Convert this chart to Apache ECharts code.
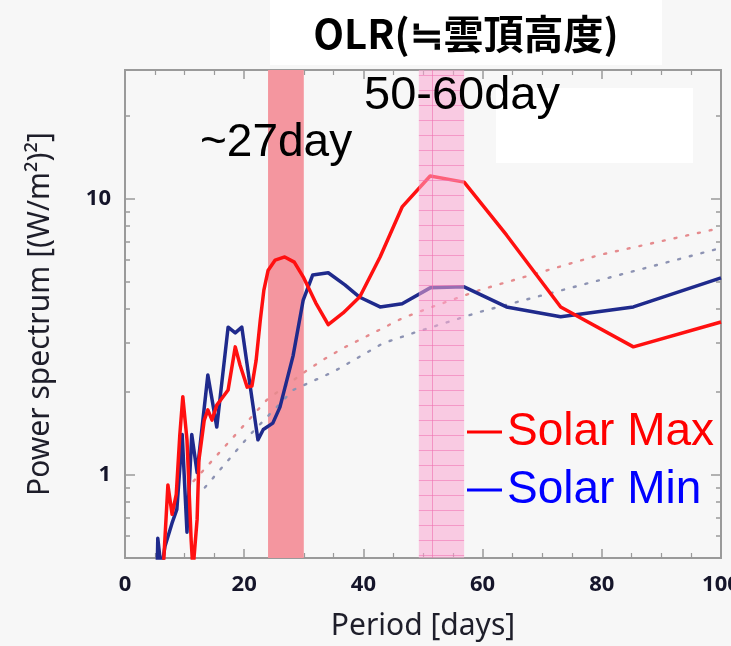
<!DOCTYPE html>
<html><head><meta charset="utf-8">
<script src="https://cdn.jsdelivr.net/npm/echarts@6/dist/echarts.min.js"></script>
<style>html,body{margin:0;padding:0;background:#f7f7f7;} #c{width:731px;height:646px;}</style>
</head><body><div id="c"></div>
<script>
// ---------- data ----------
const titleText = 'OLR(≒雲頂高度)';
const xName = 'Period [days]';
const yName = 'Power spectrum [(W/m²)²]';
const seriesNames = ['Solar Max', 'Solar Min'];
const annotations = ['~27day', '50-60day'];

const redPeriod = [6.4, 7.2, 7.9, 8.6, 9.2, 9.7, 10.4, 11.1, 11.4, 12.1, 12.4, 13.3, 13.9, 14.6, 15.4, 16.3, 17.3, 18.5, 19.3, 20.5, 21.3, 22.0, 22.7, 23.3, 24.0, 25.2, 26.8, 28.4, 30.0, 32.0, 34.1, 36.6, 39.4, 42.8, 46.5, 51.2, 56.9, 64.0, 73.1, 85.3, 100];
const redPower  = [0.45, 0.92, 0.72, 0.85, 1.4, 1.92, 1.34, 0.58, 0.45, 0.69, 1.13, 1.58, 1.72, 1.58, 1.79, 1.9, 2.03, 2.91, 2.5, 2.08, 2.1, 2.6, 3.64, 4.67, 5.5, 6.0, 6.16, 5.9, 5.17, 4.2, 3.5, 3.86, 4.42, 6.16, 9.35, 12.1, 11.5, 7.4, 4.06, 2.91, 3.58];

const bluePeriod = [5.4, 5.5, 6.1, 6.7, 7.9, 8.7, 9.6, 10.4, 11.2, 12.1, 13.9, 15.4, 17.3, 18.5, 19.6, 21.0, 22.3, 23.2, 24.8, 26.0, 28.2, 29.9, 31.5, 34.1, 36.9, 39.4, 42.8, 46.5, 51.2, 56.9, 64.0, 73.1, 85.3, 100];
const bluePower  = [0.45, 0.59, 0.45, 0.55, 0.67, 0.75, 1.4, 0.62, 1.4, 1.02, 2.3, 1.49, 3.43, 3.27, 3.43, 2.1, 1.34, 1.46, 1.54, 1.76, 2.7, 4.3, 5.3, 5.4, 4.88, 4.4, 4.06, 4.17, 4.76, 4.8, 4.06, 3.74, 4.06, 5.17];

const redSigPeriod = [11.5, 12.1, 23.8, 29.9, 33.2, 36.6, 46.6, 50.7, 59.6, 79.7, 100];
const redSig       = [0.95, 0.98, 1.87, 2.34, 2.61, 2.88, 3.7, 4.0, 4.68, 6.27, 7.85];
const blueSigPeriod = [13.4, 21.0, 28.2, 34.9, 43.3, 49.0, 59.6, 80.0, 100];
const blueSig       = [0.90, 1.4, 2.03, 2.36, 3.0, 3.3, 3.9, 5.1, 6.64];

const solarBand = [24, 30];        // ~27 day
const mjoBand = [49.3, 56.9];      // 50-60 day
const mjoBandLine = 51.5;

const xTickValues = [0, 20, 40, 60, 80, 100];
const yMajorTicks = [1, 10];
const yMinorTicks = [0.5, 0.6, 0.7, 0.8, 0.9, 2, 3, 4, 5, 6, 7, 8, 9, 20];

// ---------- chart ----------
const zip = (a, b) => a.map((v, i) => [v, b[i]]);
const frame = '#9a9a9a';
const labelColor = '#15152a';

// pattern for the 50-60 day band
const pc = document.createElement('canvas');
pc.width = 8; pc.height = 15;
const pctx = pc.getContext('2d');
pctx.fillStyle = 'rgba(252,165,210,0.55)';
pctx.fillRect(0, 0, 8, 15);
pctx.fillStyle = 'rgba(238,110,175,0.55)';
pctx.fillRect(0, 0, 8, 1);

function xAxisCfg(pos) {
  return {
    type: 'value', min: xTickValues[0], max: xTickValues[xTickValues.length - 1],
    interval: xTickValues[1] - xTickValues[0], position: pos,
    axisLine: { show: true, lineStyle: { color: frame, width: 2 } },
    axisTick: { show: true, inside: true, length: 9, lineStyle: { color: frame, width: 1.5 } },
    minorTick: { show: true, splitNumber: 4, length: 5, lineStyle: { color: frame, width: 1.2 } },
    splitLine: { show: false },
    axisLabel: pos === 'bottom'
      ? { show: true, fontSize: 22, fontWeight: 'bold', color: labelColor, margin: 16, fontFamily: 'Noto Sans' }
      : { show: false },
    name: pos === 'bottom' ? xName : '',
    nameLocation: 'middle', nameGap: 53,
    nameTextStyle: { fontSize: 30, color: '#1e1e2a', fontFamily: 'Noto Sans' }
  };
}
function yAxisCfg(pos, major) {
  return {
    type: 'log', logBase: 10, min: 0.5, max: 29.3, position: pos,
    axisLine: { show: true, onZero: false, lineStyle: { color: frame, width: 2 } },
    axisTick: { show: true, inside: true, length: major ? 10 : 5, customValues: major ? yMajorTicks : yMinorTicks,
                lineStyle: { color: frame, width: 1.5 } },
    splitLine: { show: false },
    axisLabel: (major && pos === 'left')
      ? { show: true, customValues: yMajorTicks, fontSize: 22, fontWeight: 'bold', color: labelColor, margin: 14, fontFamily: 'Noto Sans' }
      : { show: false },
    name: (major && pos === 'left') ? yName : '',
    nameLocation: 'middle', nameGap: 70, nameRotate: 90,
    nameTextStyle: { fontSize: 30, color: '#1e1e2a', fontFamily: 'Noto Sans' }
  };
}

const chart = echarts.init(document.getElementById('c'), null, { renderer: 'canvas' });
chart.setOption({
  backgroundColor: '#f7f7f7',
  animation: false,
  grid: { left: 125, right: 10, top: 70, bottom: 88, containLabel: false, outerBoundsMode: 'none' },
  xAxis: [xAxisCfg('bottom'), xAxisCfg('top')],
  yAxis: [yAxisCfg('left', true), yAxisCfg('left', false), yAxisCfg('right', true), yAxisCfg('right', false)],
  legend: {
    orient: 'vertical', left: 462, top: 403, itemGap: 10,
    icon: 'rect', itemWidth: 35, itemHeight: 3,
    textStyle: { fontSize: 46, fontFamily: 'Liberation Sans', lineHeight: 48, padding: [0, 0, 0, 0] },
    data: [
      { name: seriesNames[0], itemStyle: { color: '#ff0000' }, textStyle: { color: '#ff0000' } },
      { name: seriesNames[1], itemStyle: { color: '#0000ff' }, textStyle: { color: '#0000ff' } }
    ]
  },
  graphic: [
    { type: 'rect', left: 270, top: 0, z: 100, shape: { width: 392, height: 65 }, style: { fill: '#ffffff' } },
    { type: 'text', x: 466, y: 34, z: 101, style: { text: titleText, fontSize: 40, fontWeight: 'bold', fontFamily: 'Noto Sans CJK JP', fill: '#000', align: 'center', verticalAlign: 'middle' } },
    { type: 'rect', left: 496, top: 88, z: 100, shape: { width: 197, height: 75 }, style: { fill: '#ffffff' } },
    { type: 'text', x: 200, y: 143, z: 101, style: { text: annotations[0], fontSize: 46, fontFamily: 'Liberation Sans', fill: '#000', align: 'left', verticalAlign: 'middle' } },
    { type: 'text', x: 364, y: 96, z: 101, style: { text: annotations[1], fontSize: 47, fontFamily: 'Liberation Sans', fill: '#000', align: 'left', verticalAlign: 'middle' } }
  ],
  series: [
    {
      name: 'band27', type: 'line', data: [], z: 1, silent: true,
      markArea: { silent: true, z: 1, itemStyle: { color: '#f4969f' },
        data: [[{ xAxis: solarBand[0] }, { xAxis: solarBand[1] }]] }
    },
    {
      name: 'redSig', type: 'line', data: zip(redSigPeriod, redSig), showSymbol: false, symbol: 'none', z: 2,
      lineStyle: { color: '#e58b8e', width: 2.4, type: [2, 10], cap: 'round' }
    },
    {
      name: 'blueSig', type: 'line', data: zip(blueSigPeriod, blueSig), showSymbol: false, symbol: 'none', z: 2,
      lineStyle: { color: '#8d93b3', width: 2.4, type: [2, 10], cap: 'round' }
    },
    {
      name: seriesNames[1], type: 'line', data: zip(bluePeriod, bluePower), showSymbol: false, symbol: 'none', z: 3,
      lineStyle: { color: '#1f2a8c', width: 3.5, join: 'round' }, itemStyle: { color: '#0000ff' }
    },
    {
      name: seriesNames[0], type: 'line', data: zip(redPeriod, redPower), showSymbol: false, symbol: 'none', z: 4,
      lineStyle: { color: '#ff1010', width: 3.5, join: 'round' }, itemStyle: { color: '#ff0000' }
    },
    {
      name: 'band5060', type: 'line', data: [], z: 10, silent: true,
      markArea: { silent: true, z: 10, itemStyle: { color: { image: pc, repeat: 'repeat' } },
        data: [[{ xAxis: mjoBand[0] }, { xAxis: mjoBand[1] }]] },
      markLine: { silent: true, z: 10, symbol: 'none', label: { show: false },
        lineStyle: { color: 'rgba(238,110,175,0.6)', width: 1, type: 'solid' },
        data: [{ xAxis: mjoBandLine }] }
    }
  ]
});
</script></body></html>
